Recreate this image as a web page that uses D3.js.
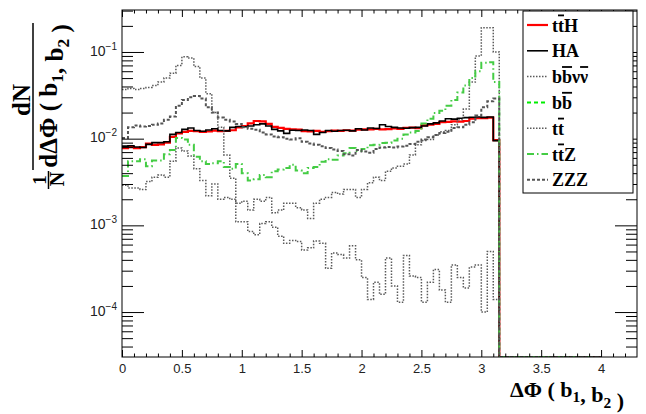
<!DOCTYPE html>
<html><head><meta charset="utf-8">
<script src="https://cdn.jsdelivr.net/npm/d3@7/dist/d3.min.js"></script>
<style>body{margin:0;background:#fff}svg{display:block}</style>
</head><body><svg id="c" width="646" height="414"></svg>
<script>
// ---- data (bin width 0.05, from 0 to 3.15; empty bins up to 4.0) ----
const binWidth = 0.05;
const histEnd = 4.0;
const xTicks = [0, 0.5, 1, 1.5, 2, 2.5, 3, 3.5, 4];
const yTicks = [1e-4, 1e-3, 1e-2, 1e-1];
const seriesNames = ["t|~t|H", "HA", "b|~b|ν|~ν", "b|~b", "t|~t", "t|~t|Z", "ZZZ"];

const ttH = [0.0078,0.008,0.0078,0.008,0.0088,0.0085,0.0086,0.009,0.0105,0.0115,
  0.012,0.0123,0.0122,0.012,0.0121,0.0124,0.0122,0.0123,0.0125,0.0135,
  0.014,0.015,0.016,0.0158,0.0148,0.0137,0.0133,0.013,0.0128,0.0127,
  0.0122,0.0121,0.0123,0.012,0.0122,0.0124,0.0123,0.0125,0.0124,0.0127,
  0.0128,0.0128,0.013,0.0128,0.0129,0.0131,0.013,0.0133,0.0134,0.0132,
  0.0142,0.0145,0.0148,0.0155,0.0156,0.0158,0.0157,0.016,0.017,0.0172,
  0.0173,0.0175,0.0096];
const HA = [0.0082,0.0083,0.008,0.0079,0.0086,0.009,0.009,0.0092,0.0112,0.0118,
  0.0128,0.0133,0.0124,0.0122,0.0126,0.013,0.0124,0.0123,0.0135,0.0138,
  0.0137,0.014,0.0145,0.0148,0.014,0.0128,0.0123,0.0115,0.0125,0.0124,
  0.0126,0.0124,0.0112,0.0118,0.0124,0.0122,0.0124,0.0125,0.0123,0.013,
  0.0126,0.0133,0.0131,0.0145,0.0138,0.0135,0.0133,0.0132,0.0134,0.0135,
  0.014,0.0148,0.0152,0.016,0.017,0.0168,0.0172,0.0175,0.0177,0.0178,
  0.0176,0.0178,0.0095];
const bbvv = [0.037,0.038,0.037,0.038,0.039,0.041,0.045,0.05,0.057,0.07,
  0.088,0.085,0.068,0.05,0.033,0.02,0.0135,0.0065,0.0035,0.0011,
  0.0011,0.00085,0.00078,0.00105,0.0011,0.00095,0.00075,0.00062,0.00067,0.00065,
  0.00052,0.00055,0.00066,0.00062,0.00032,0.00048,0.00046,0.00042,0.00058,0.0004,
  0.00025,0.00014,0.00022,0.00016,0.00042,0.0002,0.00013,0.00045,0.00026,0.00025,
  0.00013,0.00022,0.00031,0.00018,0.00013,0.00035,0.00025,0.00019,0.00033,0.00035,
  0.0001,0.0005,0.00014];
const bb = [];
const tt = [0.0029,0.0027,0.0027,0.0026,0.0032,0.0036,0.0038,0.0036,0.0055,0.0078,
  0.0072,0.0063,0.0045,0.0033,0.0022,0.003,0.002,0.0021,0.002,0.0018,
  0.0019,0.0015,0.002,0.0019,0.0021,0.0014,0.0015,0.0018,0.0018,0.0016,
  0.0015,0.0012,0.0018,0.002,0.0021,0.0024,0.0023,0.0026,0.0026,0.0021,
  0.0026,0.0031,0.0036,0.0033,0.0042,0.0046,0.0048,0.0051,0.0065,0.0085,
  0.0095,0.0098,0.011,0.012,0.0124,0.0145,0.0165,0.022,0.045,0.09,
  0.19,0.19,0.1];
const ttZ = [0.0037,0.0055,0.0055,0.0058,0.0048,0.0056,0.0056,0.0066,0.0074,0.0102,
  0.0098,0.0085,0.0062,0.0055,0.0051,0.0052,0.0055,0.0047,0.0045,0.0051,
  0.004,0.0033,0.0034,0.0038,0.0036,0.0042,0.0044,0.0046,0.005,0.0043,
  0.004,0.0046,0.0047,0.0054,0.0058,0.0057,0.0064,0.0068,0.0078,0.0072,
  0.0076,0.0084,0.0085,0.0089,0.009,0.0095,0.01,0.0112,0.0118,0.0123,
  0.015,0.017,0.0198,0.021,0.024,0.028,0.034,0.041,0.05,0.06,
  0.075,0.076,0.045];
const ZZZ = [0.0102,0.0135,0.0142,0.0138,0.014,0.0145,0.015,0.0165,0.018,0.024,
  0.028,0.03,0.031,0.029,0.023,0.02,0.0175,0.0165,0.0158,0.0148,
  0.0135,0.013,0.0127,0.0118,0.0112,0.0106,0.0104,0.01,0.0098,0.0101,
  0.0092,0.0088,0.0085,0.0082,0.0078,0.0075,0.0072,0.0066,0.0064,0.0074,
  0.0071,0.0069,0.0076,0.0079,0.008,0.0079,0.0081,0.0083,0.0087,0.0092,
  0.0098,0.0104,0.011,0.0116,0.012,0.0133,0.0135,0.0145,0.0155,0.0185,
  0.023,0.027,0.029];

const seriesData = [ttH, HA, bbvv, bb, tt, ttZ, ZZZ];
const styles = [
  {c:"#ff0000", w:2.2, d:null},
  {c:"#000000", w:1.6, d:null},
  {c:"#5a5a5a", w:1.5, d:"1.5,1.5"},
  {c:"#00ee00", w:2, d:"4,3"},
  {c:"#5a5a5a", w:1.5, d:"1.5,1.5"},
  {c:"#44cc44", w:2, d:"7,3,1.5,3"},
  {c:"#555555", w:2, d:"3,2"}
];

// ---- layout ----
const L = 122, R = 637, T = 10, B = 357;
const svg = d3.select("#c");
const x = d3.scaleLinear().domain([0, 4.3]).range([L, R]);
const y = d3.scaleLog().domain([3.03e-5, 0.305]).range([B, T]);

svg.append("defs").append("clipPath").attr("id","clip")
  .append("rect").attr("x",L).attr("y",T).attr("width",R-L).attr("height",B-T);

// histograms
function histPath(vals){
  const pts = [[x(0), y(vals[0])]];
  vals.forEach((v,i)=>{
    const yy = y(v);
    pts.push([x(i*binWidth), yy], [x((i+1)*binWidth), yy]);
  });
  pts.push([x(vals.length*binWidth), B], [x(histEnd), B]);
  return d3.line()(pts);
}
const hg = svg.append("g").attr("clip-path","url(#clip)");
seriesData.forEach((vals,i)=>{
  if(!vals.length) return;
  const s = styles[i];
  hg.append("path").attr("d", histPath(vals)).attr("fill","none")
    .attr("stroke", s.c).attr("stroke-width", s.w)
    .attr("stroke-dasharray", s.d).attr("stroke-linejoin","miter");
});

// axes
const minorX = d3.range(0, 43).map(k=>k/10).filter(v=>Math.abs(v*2-Math.round(v*2))>1e-6);
const minorY = [];
for(let k=-5;k<=0;k++) for(let m=2;m<=9;m++){const v=m*Math.pow(10,k); if(v>3.03e-5 && v<0.305) minorY.push(v);}

function styleAxis(g){ g.select(".domain").remove(); g.selectAll(".tick line").attr("stroke","#000"); }

svg.append("g").attr("transform",`translate(0,${B})`)
  .call(d3.axisBottom(x).tickValues(xTicks).tickSize(-7).tickPadding(7).tickFormat(d3.format("")))
  .call(styleAxis)
  .call(g=>g.selectAll("text").attr("font-family","'Liberation Sans',Arial,sans-serif").attr("font-size",13).attr("fill","#222"));
svg.append("g").attr("transform",`translate(0,${B})`)
  .call(d3.axisBottom(x).tickValues(minorX).tickSize(-3.5).tickFormat("")).call(styleAxis);
svg.append("g").attr("transform",`translate(0,${T})`)
  .call(d3.axisTop(x).tickValues(xTicks).tickSize(-7).tickFormat("")).call(styleAxis);
svg.append("g").attr("transform",`translate(0,${T})`)
  .call(d3.axisTop(x).tickValues(minorX).tickSize(-3.5).tickFormat("")).call(styleAxis);

svg.append("g").attr("transform",`translate(${L},0)`)
  .call(d3.axisLeft(y).tickValues(yTicks).tickSize(-22).tickPadding(5).tickFormat(()=>""))
  .call(styleAxis)
  .call(g=>g.selectAll(".tick text").each(function(d){
    const t = d3.select(this).attr("font-family","'Liberation Sans',Arial,sans-serif").attr("fill","#222");
    t.append("tspan").attr("font-size",14).text("10");
    t.append("tspan").attr("font-size",10).attr("dy",-6).text("\u2212" + Math.round(-Math.log10(d)));
  }));
svg.append("g").attr("transform",`translate(${L},0)`)
  .call(d3.axisLeft(y).tickValues(minorY).tickSize(-11).tickFormat("")).call(styleAxis);
svg.append("g").attr("transform",`translate(${R},0)`)
  .call(d3.axisRight(y).tickValues(yTicks).tickSize(-22).tickFormat("")).call(styleAxis);
svg.append("g").attr("transform",`translate(${R},0)`)
  .call(d3.axisRight(y).tickValues(minorY).tickSize(-11).tickFormat("")).call(styleAxis);

svg.append("rect").attr("x",L).attr("y",T).attr("width",R-L).attr("height",B-T)
  .attr("fill","none").attr("stroke","#000").attr("stroke-width",1);

// ---- titles ----
const serif = "'Liberation Serif','Times New Roman',serif";
function subText(t, parts, size){
  parts.forEach(p=>{
    if(p.sub){
      t.append("tspan").attr("font-size",size*0.7).attr("dy",size*0.24).text(p.s);
      t.append("tspan").attr("dy",-size*0.24).text("");
    } else t.append("tspan").text(p.s);
  });
}
const titleParts = [{s:"ΔΦ ( b"},{s:"1",sub:true},{s:", b"},{s:"2",sub:true},{s:" )"}];
const xt = svg.append("text").attr("x",624).attr("y",397).attr("text-anchor","end")
  .attr("font-family",serif).attr("font-weight","bold").attr("font-size",22).attr("fill","#000");
subText(xt, titleParts, 22);

// y title, rotated text pieces
const yg = svg.append("g").attr("font-family",serif).attr("font-weight","bold").attr("fill","#000");
function rtext(X, Y, size, str){
  return yg.append("text").attr("transform",`translate(${X},${Y}) rotate(-90)`)
    .attr("text-anchor","middle").attr("font-size",size).text(str);
}
rtext(46, 180, 19, "1");
yg.append("line").attr("x1",48.5).attr("x2",48.5).attr("y1",171).attr("y2",189).attr("stroke","#000").attr("stroke-width",1.5);
rtext(64, 179, 20, "N");
rtext(30, 100, 25, "dN");
yg.append("line").attr("x1",33).attr("x2",33).attr("y1",23).attr("y2",170).attr("stroke","#000").attr("stroke-width",1.5);
const den = rtext(57, 96, 25, null);
subText(den, [{s:"dΔΦ ( b"},{s:"1",sub:true},{s:", b"},{s:"2",sub:true},{s:" )"}], 25);

// ---- legend ----
const lg = svg.append("g");
lg.append("rect").attr("x",523).attr("y",11).attr("width",110).attr("height",182)
  .attr("fill","#fff").attr("stroke","#000").attr("stroke-width",1);
seriesNames.forEach((name,i)=>{
  const yy = 25 + i*25.8;
  const s = styles[i];
  lg.append("line").attr("x1",527).attr("x2",548).attr("y1",yy).attr("y2",yy)
    .attr("stroke",s.c).attr("stroke-width",s.w).attr("stroke-dasharray",s.d);
  const t = lg.append("text").attr("x",552).attr("y",yy+6.5)
    .attr("font-family",serif).attr("font-weight","bold").attr("font-size",18).attr("fill","#000");
  name.split("|").forEach(part=>{
    if(part.startsWith("~")) t.append("tspan").style("text-decoration","overline").text(part.slice(1));
    else t.append("tspan").text(part);
  });
});
</script></body></html>
